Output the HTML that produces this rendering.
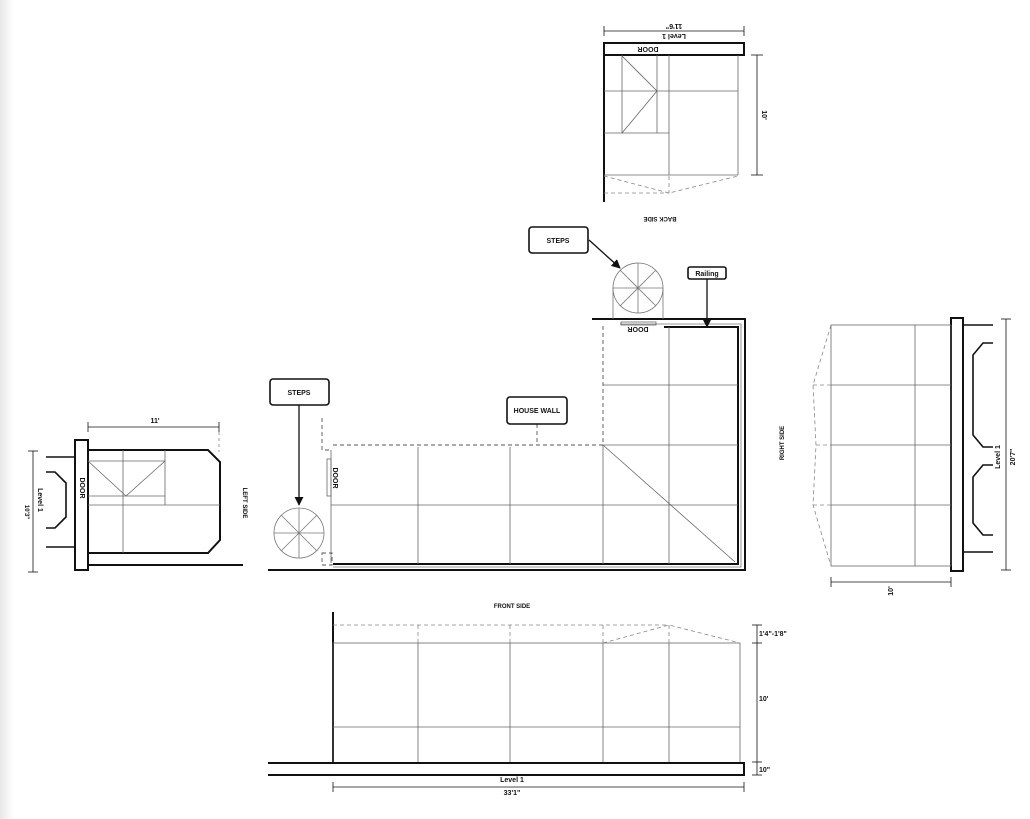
<!DOCTYPE html>
<html><head><meta charset="utf-8"><style>
html,body{margin:0;padding:0;background:#fff;}
svg{display:block;}
text{font-family:"Liberation Sans",sans-serif;font-weight:bold;fill:#111;}
</style></head><body>
<svg width="1030" height="819" viewBox="0 0 1030 819" xmlns="http://www.w3.org/2000/svg">
<defs>
<linearGradient id="lg" x1="0" x2="1"><stop offset="0" stop-color="#e8e8e8"/><stop offset="1" stop-color="#fff"/></linearGradient>
<marker id="ar" viewBox="0 0 10 10" refX="9" refY="5" markerWidth="7" markerHeight="7" orient="auto"><path d="M0,0 L10,5 L0,10 z" fill="#111"/></marker>
<marker id="dt" viewBox="0 0 10 10" refX="5" refY="5" markerWidth="4" markerHeight="4"><path d="M0,5 L10,5 M5,0 L5,10" stroke="#111" stroke-width="1.5"/></marker>
</defs>
<rect x="0" y="0" width="14" height="819" fill="url(#lg)"/>

<!-- BACK SIDE -->
<g stroke="#111" fill="none">
<line x1="604" y1="31" x2="744" y2="31" stroke-width="0.8"/>
<line x1="604" y1="26" x2="604" y2="36" stroke-width="0.8"/>
<line x1="744" y1="26" x2="744" y2="36" stroke-width="0.8"/>
<rect x="604" y="43" width="140" height="12" stroke-width="2"/>
<line x1="604" y1="55" x2="604" y2="202" stroke-width="2"/>
<g stroke="#666" stroke-width="0.8">
<line x1="738" y1="55" x2="738" y2="175"/>
<line x1="604" y1="175" x2="738" y2="175"/>
<line x1="669" y1="55" x2="669" y2="175"/>
<line x1="604" y1="91" x2="738" y2="91"/>
<line x1="604" y1="133" x2="669" y2="133"/>
<line x1="622" y1="55" x2="622" y2="133"/>
<line x1="657" y1="55" x2="657" y2="133"/>
<polyline points="622,56 657,91 622,133"/>
</g>
<g stroke="#888" stroke-width="0.8" stroke-dasharray="4,3">
<polyline points="604,176 669,193 738,176"/>
<line x1="604" y1="193" x2="669" y2="193"/>
<line x1="669" y1="176" x2="669" y2="193"/>
</g>
<line x1="757" y1="55" x2="757" y2="175" stroke-width="0.8"/>
<line x1="751" y1="55" x2="763" y2="55" stroke-width="0.8"/>
<line x1="751" y1="175" x2="763" y2="175" stroke-width="0.8"/>
</g>
<text transform="translate(674,24) rotate(180)" font-size="7" text-anchor="middle">11'6"</text>
<text transform="translate(674,34) rotate(180)" font-size="7" text-anchor="middle">Level 1</text>
<text transform="translate(648,47) rotate(180)" font-size="7" text-anchor="middle">DOOR</text>
<text transform="translate(762,115) rotate(90)" font-size="7" text-anchor="middle">10'</text>
<text transform="translate(660,217) rotate(180)" font-size="6" text-anchor="middle">BACK SIDE</text>

<!-- MAIN PLAN -->
<g stroke="#111" fill="none">
<polyline points="592,319 745,319 745,570 268,570" stroke-width="2"/>
<polyline points="664,327 738,327 738,564 333,564" stroke-width="2"/>
<polyline points="620,324 741,324 741,567 333,567" stroke="#777" stroke-width="0.8"/>
<g stroke="#666" stroke-width="0.8">
<line x1="418" y1="447" x2="418" y2="564"/>
<line x1="510" y1="447" x2="510" y2="564"/>
<line x1="603" y1="445" x2="603" y2="564"/>
<line x1="669" y1="327" x2="669" y2="564"/>
<line x1="331" y1="505" x2="738" y2="505"/>
<line x1="603" y1="385" x2="738" y2="385"/>
<line x1="603" y1="445" x2="738" y2="445"/>
<line x1="603" y1="445" x2="735" y2="562"/>
<line x1="331" y1="450" x2="331" y2="563"/>
<rect x="327" y="459" width="4" height="37"/>
<rect x="621" y="322" width="35" height="3"/>
</g>
<g stroke="#555" stroke-width="0.9" stroke-dasharray="4,3">
<polyline points="333,445 603,445 603,323"/>
<polyline points="322,418 322,450 332,450"/>
<rect x="322" y="553" width="10" height="12"/>
<line x1="537" y1="424" x2="537" y2="443"/>
</g>
<g stroke="#777" stroke-width="0.8">
<circle cx="299" cy="533" r="25"/>
<line x1="274" y1="533" x2="324" y2="533"/><line x1="299" y1="508" x2="299" y2="558"/>
<line x1="281" y1="515" x2="317" y2="551"/><line x1="317" y1="515" x2="281" y2="551"/>
<circle cx="638" cy="288" r="25"/>
<line x1="613" y1="288" x2="663" y2="288"/><line x1="638" y1="263" x2="638" y2="313"/>
<line x1="620" y1="270" x2="656" y2="306"/><line x1="656" y1="270" x2="620" y2="306"/>
<line x1="613" y1="288" x2="613" y2="319"/><line x1="663" y1="288" x2="663" y2="319"/>
</g>
<rect x="270" y="379" width="59" height="26" rx="3" stroke-width="1.6"/>
<line x1="299" y1="405" x2="299" y2="505" stroke-width="1.3" marker-end="url(#ar)"/>
<rect x="529" y="227" width="59" height="26" rx="3" stroke-width="1.6"/>
<line x1="589" y1="240" x2="620" y2="268" stroke-width="1.3" marker-end="url(#ar)"/>
<rect x="688" y="267" width="38" height="12" rx="2" stroke-width="1.6"/>
<line x1="707" y1="279" x2="707" y2="327" stroke-width="1.3" marker-end="url(#ar)"/>
<rect x="507" y="397" width="60" height="27" rx="3" stroke-width="1.6"/>
</g>
<text x="299" y="395" font-size="7" text-anchor="middle">STEPS</text>
<text x="558" y="243" font-size="7" text-anchor="middle">STEPS</text>
<text x="707" y="276" font-size="7" text-anchor="middle">Railing</text>
<text x="537" y="413" font-size="7" text-anchor="middle">HOUSE WALL</text>
<text transform="translate(638,327) rotate(180)" font-size="7" text-anchor="middle">DOOR</text>
<text transform="translate(333,478) rotate(90)" font-size="7" text-anchor="middle">DOOR</text>

<!-- LEFT SIDE -->
<g stroke="#111" fill="none">
<line x1="88" y1="427" x2="219" y2="427" stroke-width="0.8"/>
<line x1="88" y1="422" x2="88" y2="432" stroke-width="0.8"/>
<line x1="219" y1="422" x2="219" y2="432" stroke-width="0.8"/>
<line x1="219" y1="432" x2="219" y2="452" stroke="#888" stroke-width="0.8" stroke-dasharray="3,3"/>
<rect x="75" y="440" width="13" height="130" stroke-width="2"/>
<polyline points="88,450 208,450 220,462 220,540 208,553 88,553" stroke-width="2"/>
<line x1="88" y1="565" x2="243" y2="565" stroke-width="2"/>
<g stroke="#666" stroke-width="0.8">
<line x1="123" y1="450" x2="123" y2="553"/>
<line x1="165" y1="450" x2="165" y2="505"/>
<line x1="88" y1="505" x2="220" y2="505"/>
<line x1="88" y1="496" x2="165" y2="496"/>
<line x1="88" y1="461" x2="165" y2="461"/>
<polyline points="88,461 126,496 165,461"/>
</g>
<line x1="46" y1="457" x2="75" y2="457" stroke-width="1.6"/>
<line x1="46" y1="547" x2="75" y2="547" stroke-width="1.6"/>
<polyline points="46,472 55,472 66,483 66,517 55,528 46,528" stroke-width="1.6"/>
<line x1="33" y1="451" x2="33" y2="572" stroke-width="0.8"/>
<line x1="28" y1="451" x2="38" y2="451" stroke-width="0.8"/>
<line x1="28" y1="572" x2="38" y2="572" stroke-width="0.8"/>
</g>
<text x="155" y="423" font-size="7" text-anchor="middle">11'</text>
<text transform="translate(80,488) rotate(90)" font-size="7" text-anchor="middle">DOOR</text>
<text transform="translate(38,500) rotate(90)" font-size="7" text-anchor="middle">Level 1</text>
<text transform="translate(25,512) rotate(90)" font-size="6" text-anchor="middle">10'3"</text>
<text transform="translate(243,503) rotate(90)" font-size="6" text-anchor="middle">LEFT SIDE</text>

<!-- RIGHT SIDE -->
<g stroke="#111" fill="none">
<rect x="951" y="318" width="12" height="253" stroke-width="2"/>
<g stroke="#666" stroke-width="0.8">
<rect x="831" y="325" width="120" height="241"/>
<line x1="915" y1="325" x2="915" y2="566"/>
<line x1="831" y1="385" x2="951" y2="385"/>
<line x1="831" y1="445" x2="951" y2="445"/>
<line x1="831" y1="505" x2="951" y2="505"/>
</g>
<g stroke="#888" stroke-width="0.8" stroke-dasharray="4,3">
<polyline points="831,325 813,385 816,445 813,505 831,566"/>
<line x1="813" y1="385" x2="831" y2="385"/>
<line x1="816" y1="445" x2="831" y2="445"/>
<line x1="813" y1="505" x2="831" y2="505"/>
</g>
<line x1="963" y1="325" x2="993" y2="325" stroke-width="1.6"/>
<line x1="963" y1="552" x2="993" y2="552" stroke-width="1.6"/>
<polyline points="993,343 983,343 973,355 973,435 983,447 993,447" stroke-width="1.6"/>
<polyline points="993,465 983,465 973,477 973,523 983,535 993,535" stroke-width="1.6"/>
<line x1="1006" y1="319" x2="1006" y2="570" stroke-width="0.8"/>
<line x1="1001" y1="319" x2="1011" y2="319" stroke-width="0.8"/>
<line x1="1001" y1="570" x2="1011" y2="570" stroke-width="0.8"/>
<line x1="831" y1="582" x2="951" y2="582" stroke-width="0.8"/>
<line x1="831" y1="577" x2="831" y2="587" stroke-width="0.8"/>
<line x1="951" y1="577" x2="951" y2="587" stroke-width="0.8"/>
</g>
<text transform="translate(1000,457) rotate(-90)" font-size="7" text-anchor="middle">Level 1</text>
<text transform="translate(1015,457) rotate(-90)" font-size="7" text-anchor="middle">20'7"</text>
<text transform="translate(893,591) rotate(-90)" font-size="7" text-anchor="middle">10'</text>
<text transform="translate(784,443) rotate(-90)" font-size="6" text-anchor="middle">RIGHT SIDE</text>

<!-- FRONT SIDE -->
<g stroke="#111" fill="none">
<line x1="333" y1="612" x2="333" y2="763" stroke-width="2"/>
<g stroke="#666" stroke-width="0.8">
<rect x="333" y="643" width="407" height="120"/>
<line x1="418" y1="643" x2="418" y2="763"/>
<line x1="510" y1="643" x2="510" y2="763"/>
<line x1="603" y1="643" x2="603" y2="763"/>
<line x1="669" y1="643" x2="669" y2="763"/>
<line x1="333" y1="727" x2="740" y2="727"/>
</g>
<g stroke="#888" stroke-width="0.8" stroke-dasharray="4,3">
<line x1="333" y1="625" x2="669" y2="625"/>
<line x1="418" y1="625" x2="418" y2="643"/>
<line x1="510" y1="625" x2="510" y2="643"/>
<line x1="603" y1="625" x2="603" y2="643"/>
<line x1="669" y1="625" x2="669" y2="643"/>
<polyline points="603,643 669,625 740,643"/>
</g>
<polyline points="268,763 744,763 744,775 268,775" stroke-width="2"/>
<line x1="333" y1="787" x2="744" y2="787" stroke-width="0.8"/>
<line x1="333" y1="782" x2="333" y2="792" stroke-width="0.8"/>
<line x1="744" y1="782" x2="744" y2="792" stroke-width="0.8"/>
<line x1="757" y1="625" x2="757" y2="775" stroke-width="0.8"/>
<line x1="752" y1="625" x2="762" y2="625" stroke-width="0.8"/>
<line x1="752" y1="643" x2="762" y2="643" stroke-width="0.8"/>
<line x1="752" y1="762" x2="762" y2="762" stroke-width="0.8"/>
<line x1="752" y1="775" x2="762" y2="775" stroke-width="0.8"/>
</g>
<text x="512" y="608" font-size="6" text-anchor="middle">FRONT SIDE</text>
<text x="512" y="782" font-size="7" text-anchor="middle">Level 1</text>
<text x="512" y="795" font-size="7" text-anchor="middle">33'1"</text>
<text x="759" y="636" font-size="7">1'4"-1'8"</text>
<text x="759" y="701" font-size="7">10'</text>
<text x="759" y="772" font-size="7">10"</text>
</svg>
</body></html>
